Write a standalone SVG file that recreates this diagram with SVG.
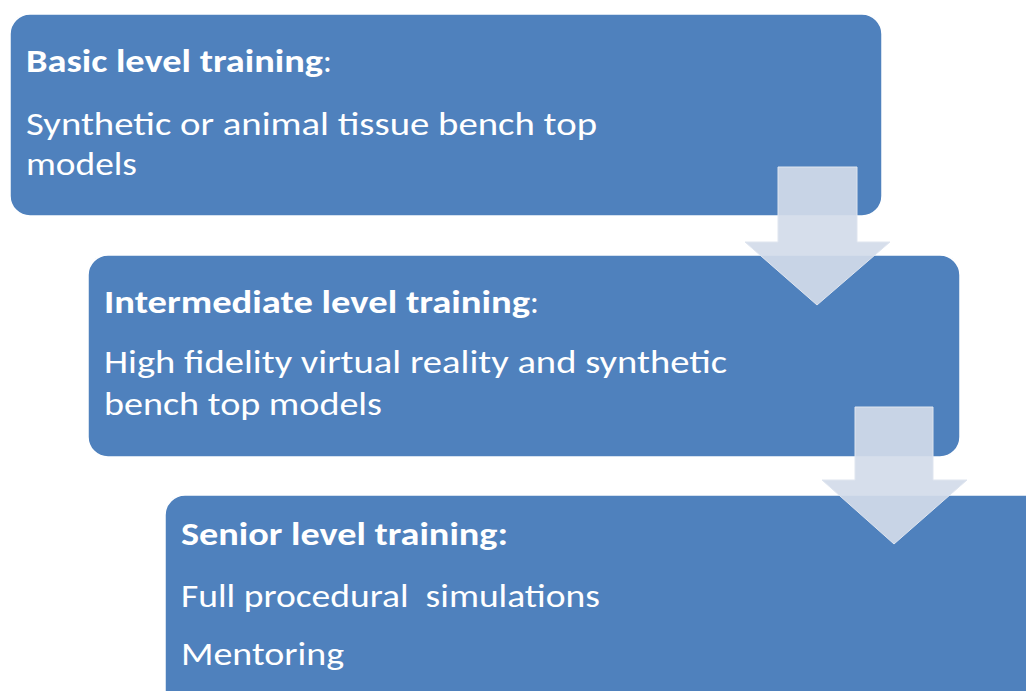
<svg xmlns="http://www.w3.org/2000/svg" width="1026" height="691" viewBox="0 0 1026 691">
<style>
.box{fill:#4f81bd;stroke:#ffffff;stroke-width:1.5}
.t{font-family:Carlito,"Liberation Sans",sans-serif;fill:#ffffff;font-size:33px}
.b{font-weight:bold}
.arr{fill:#d3dbe9;fill-opacity:0.92;stroke:#dfe5ef;stroke-width:1}
</style>
<rect width="1026" height="691" fill="#ffffff"/>
<g id="node-basic">
<rect class="box" x="10" y="14" width="872" height="202" rx="20"/>
<text class="t" x="26" y="72"><tspan class="b" textLength="297" lengthAdjust="spacingAndGlyphs">Basic level training</tspan><tspan>:</tspan></text>
<text class="t" x="26" y="135" textLength="571" lengthAdjust="spacingAndGlyphs">Synthetic or animal tissue bench top</text>
<text class="t" x="26" y="175" textLength="111" lengthAdjust="spacingAndGlyphs">models</text>
</g>
<g id="node-intermediate">
<rect class="box" x="88" y="255" width="872" height="202" rx="20"/>
<text class="t" x="104" y="313"><tspan class="b" textLength="426" lengthAdjust="spacingAndGlyphs">Intermediate level training</tspan><tspan>:</tspan></text>
<text class="t" x="104" y="373" textLength="623" lengthAdjust="spacingAndGlyphs">High fidelity virtual reality and synthetic</text>
<text class="t" x="104" y="415" textLength="278" lengthAdjust="spacingAndGlyphs">bench top models</text>
</g>
<g id="node-senior">
<rect class="box" x="165" y="495" width="900" height="220" rx="20"/>
<text class="t b" x="181" y="545" textLength="327" lengthAdjust="spacingAndGlyphs">Senior level training:</text>
<text class="t" x="181" y="607" textLength="419" lengthAdjust="spacingAndGlyphs" xml:space="preserve">Full procedural  simulations</text>
<text class="t" x="181" y="665" textLength="163" lengthAdjust="spacingAndGlyphs">Mentoring</text>
</g>
<g id="connectors">
<path class="arr" d="M778,167 H857 V242 H890 L817,305 L745,242 H778 Z"/>
<path class="arr" d="M855,407 H933 V480 H967 L894,544 L822,480 H855 Z"/>
</g>
</svg>
